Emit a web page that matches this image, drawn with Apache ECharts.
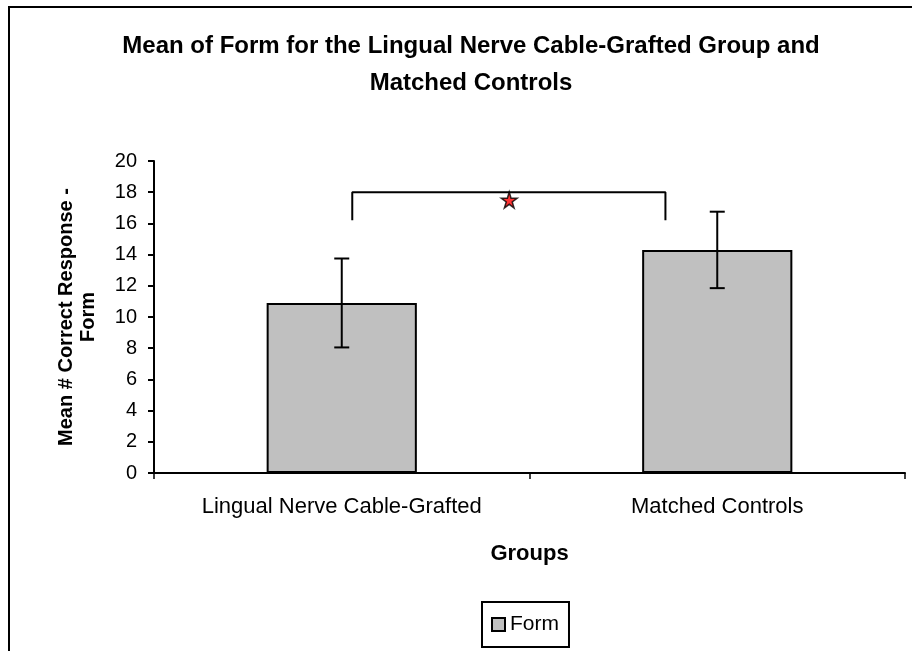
<!DOCTYPE html>
<html>
<head>
<meta charset="utf-8">
<script src="https://cdn.jsdelivr.net/npm/echarts@6/dist/echarts.min.js"></script>
<style>
  html, body { margin: 0; padding: 0; background: #fff; }
  #chart { width: 912px; height: 651px; }
</style>
</head>
<body>
<div id="chart"></div>
<script>
// data
var groups = ['Lingual Nerve Cable-Grafted', 'Matched Controls'];
var formMeans = [10.9, 14.3];
var formErrors = [2.85, 2.45];
var yTicks = [0, 20, 2]; // min, max, step
// significance bracket, x in category units (0..2), y in axis units
var bracketX = [0.528, 1.362];
var bracketTop = 18;
var bracketFoot = 16.2;
var starPoint = [0.946, 17.5];

var errData = groups.map(function (g, i) {
  return [i, formMeans[i] - formErrors[i], formMeans[i] + formErrors[i]];
});
var bracketData = [
  [bracketX[0], bracketFoot],
  [bracketX[0], bracketTop],
  [bracketX[1], bracketTop],
  [bracketX[1], bracketFoot]
];

var font = 'Liberation Sans, Arial, sans-serif';
var chart = echarts.init(document.getElementById('chart'));

function renderErr(params, api) {
  var lo = api.coord([api.value(0), api.value(1)]);
  var hi = api.coord([api.value(0), api.value(2)]);
  var w = 7.5;
  var st = { stroke: '#000', lineWidth: 2 };
  return {
    type: 'group',
    children: [
      { type: 'line', shape: { x1: lo[0], y1: lo[1], x2: hi[0], y2: hi[1] }, style: st },
      { type: 'line', shape: { x1: hi[0] - w, y1: hi[1], x2: hi[0] + w, y2: hi[1] }, style: st },
      { type: 'line', shape: { x1: lo[0] - w, y1: lo[1], x2: lo[0] + w, y2: lo[1] }, style: st }
    ]
  };
}

chart.setOption({
  animation: false,
  textStyle: { fontFamily: font },
  graphic: [{
    type: 'rect',
    z: -1,
    shape: { x: 9, y: 7, width: 920, height: 700 },
    style: { fill: 'none', stroke: '#000', lineWidth: 2 }
  }],
  title: {
    text: 'Mean of Form for the Lingual Nerve Cable-Grafted Group and\nMatched Controls',
    left: 466,
    top: 23,
    padding: 5,
    textAlign: 'center',
    textStyle: { fontFamily: font, fontSize: 24, fontWeight: 'bold', color: '#000', lineHeight: 37 }
  },
  legend: {
    data: ['Form'],
    left: 482,
    top: 602,
    orient: 'horizontal',
    padding: [12, 10, 12, 9],
    icon: 'rect',
    itemWidth: 13,
    itemHeight: 13,
    itemGap: 5,
    borderColor: '#000',
    borderWidth: 2,
    textStyle: { fontFamily: font, fontSize: 21, color: '#000' }
  },
  grid: { left: 154, right: 7, top: 161, bottom: 178, containLabel: false },
  xAxis: [{
    type: 'category',
    data: groups,
    name: 'Groups',
    nameLocation: 'middle',
    nameGap: 70,
    nameMoveOverlap: false,
    nameTextStyle: { fontFamily: font, fontSize: 22, fontWeight: 'bold', color: '#000' },
    axisLine: { lineStyle: { color: '#000', width: 2 } },
    axisTick: { show: true, length: 6, lineStyle: { color: '#000', width: 1.5 } },
    axisLabel: { color: '#000', fontSize: 22, margin: 23, fontFamily: font },
    splitLine: { show: false }
  }, {
    type: 'value',
    min: 0,
    max: 2,
    show: false
  }],
  yAxis: {
    type: 'value',
    min: yTicks[0],
    max: yTicks[1],
    interval: yTicks[2],
    name: 'Mean # Correct Response -\nForm',
    nameLocation: 'middle',
    nameRotate: 90,
    nameGap: 55,
    nameMoveOverlap: false,
    nameTextStyle: { fontFamily: font, fontSize: 20, fontWeight: 'bold', color: '#000', lineHeight: 22 },
    axisLine: { show: true, lineStyle: { color: '#000', width: 2 } },
    axisTick: { show: true, length: 6, lineStyle: { color: '#000', width: 2 } },
    axisLabel: { color: '#000', fontSize: 20, margin: 17, fontFamily: font },
    splitLine: { show: false }
  },
  series: [{
    name: 'Form',
    type: 'bar',
    data: formMeans,
    barWidth: '40%',
    itemStyle: { color: '#c0c0c0', borderColor: '#000', borderWidth: 2 }
  }, {
    name: 'err',
    type: 'custom',
    data: errData,
    renderItem: renderErr,
    encode: { x: 0, y: [1, 2] },
    silent: true,
    z: 5
  }, {
    name: 'bracket',
    type: 'line',
    xAxisIndex: 1,
    data: bracketData,
    symbol: 'none',
    lineStyle: { color: '#000', width: 2 },
    silent: true,
    z: 5
  }, {
    name: 'star',
    type: 'scatter',
    xAxisIndex: 1,
    data: [starPoint],
    symbol: 'path://M50,0 L61,35 L98,35 L68,57 L79,91 L50,70 L21,91 L32,57 L2,35 L39,35 Z',
    symbolSize: 16,
    itemStyle: { color: '#ff0000', borderColor: '#000', borderWidth: 1.5 },
    silent: true,
    z: 6
  }]
});
</script>
</body>
</html>
